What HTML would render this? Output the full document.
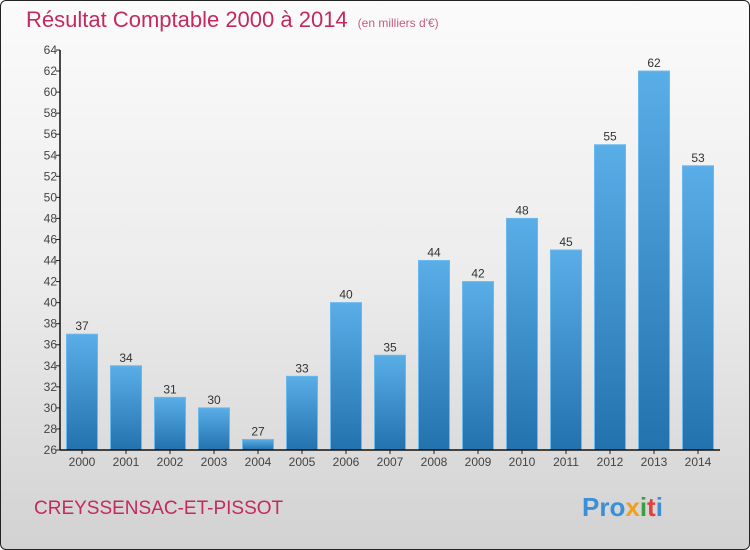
<!DOCTYPE html>
<html><head><meta charset="utf-8"><style>
html,body{margin:0;padding:0;}
body{width:750px;height:550px;overflow:hidden;font-family:"Liberation Sans",sans-serif;}
#wrap{position:absolute;left:0;top:0;width:748px;height:548px;border:1px solid #222;border-radius:6px;background:linear-gradient(#fbfbfb 0%,#ececec 50%,#d2d2d2 100%);overflow:hidden;}
</style></head><body>
<div id="wrap">
<svg id="chart" width="750" height="550" style="position:absolute;left:-1px;top:-1px">
<defs>
<linearGradient id="bg" x1="0" y1="0" x2="0" y2="1"><stop offset="0" stop-color="#5aaee8"/><stop offset="1" stop-color="#2272ad"/></linearGradient>
</defs>
<text x="26" y="27" font-size="22" fill="#c42a5c">Résultat Comptable 2000 à 2014<tspan font-size="12" dx="10" fill="#c85a80">(en milliers d'€)</tspan></text>
<text x="34" y="514" font-size="19" fill="#c42a5c">CREYSSENSAC-ET-PISSOT</text>
<text x="582" y="516" font-size="26" font-weight="bold"><tspan fill="#3a8fd8">Pro</tspan><tspan fill="#f0a020">x</tspan><tspan fill="#3aa040">i</tspan><tspan fill="#e04040">t</tspan><tspan fill="#3a8fd8">i</tspan></text>
<g id="plot"></g>
</svg>
</div>
<script>
const years=["2000","2001","2002","2003","2004","2005","2006","2007","2008","2009","2010","2011","2012","2013","2014"];
const values=[37,34,31,30,27,33,40,35,44,42,48,45,55,62,53];
const yTicks=[26,28,30,32,34,36,38,40,42,44,46,48,50,52,54,56,58,60,62,64];
const NS="http://www.w3.org/2000/svg";
const g=document.getElementById('plot');
const x0=60,x1=720,yTop=50,yBot=450,yMin=26,yMax=64;
const slot=(x1-x0)/years.length;
const yScale=v=>yBot-(v-yMin)/(yMax-yMin)*(yBot-yTop);
const xCenter=i=>x0+slot*(i+0.5);
function mk(t,a){const e=document.createElementNS(NS,t);for(const k in a)e.setAttribute(k,a[k]);g.appendChild(e);return e;}
yTicks.forEach(v=>{
 const y=yScale(v);
 const tk=mk('line',{x1:x0-4,x2:x0,y1:y,y2:y,stroke:'#222'});
 
 
 const t=mk('text',{x:x0-3,y:y+4,'font-size':12,fill:'#444','text-anchor':'end'});
 t.textContent=v;
 
 
});
values.forEach((v,i)=>{
 const cx=xCenter(i),w=31,y=yScale(v);
 const r=mk('rect',{x:cx-w/2,y:y,width:w,height:yBot-y,fill:'url(#bg)',stroke:'#6ab8ee','stroke-width':1});
 
 
 const t=mk('text',{x:cx,y:y-4,'font-size':12,fill:'#333','text-anchor':'middle'});
 t.textContent=v;
 
 
 const tk=mk('line',{x1:cx,x2:cx,y1:yBot,y2:yBot+4,stroke:'#222'});
 
 
 const xl=mk('text',{x:cx,y:yBot+16,'font-size':12,fill:'#444','text-anchor':'middle'});
 xl.textContent=years[i];
 
 
});
const ya=mk('line',{x1:x0,x2:x0,y1:yTop,y2:yBot,stroke:'#111','stroke-width':1.5});


const xa=mk('line',{x1:x0,x2:x1,y1:yBot,y2:yBot,stroke:'#111','stroke-width':1.5});


</script>
</body></html>
